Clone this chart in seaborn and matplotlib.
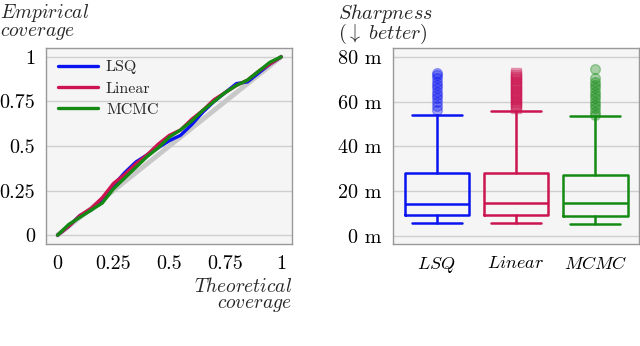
"""Calibration curves and sharpness box plots for LSQ / Linear / MCMC."""

import matplotlib

matplotlib.use("Agg")
import matplotlib.pyplot as plt
import pandas as pd
import seaborn as sns

# ---- data ----
methods = ["LSQ", "Linear", "MCMC"]
colors = ["#0a14f0", "#cc1450", "#148a14"]

theoretical = [0.0, 0.05, 0.10, 0.15, 0.20, 0.25, 0.30, 0.35, 0.40, 0.45, 0.50,
               0.55, 0.60, 0.65, 0.70, 0.75, 0.80, 0.85, 0.90, 0.95, 1.0]
cov_lsq = [0.0, 0.05, 0.11, 0.14, 0.20, 0.28, 0.35, 0.41, 0.45, 0.49, 0.53,
           0.56, 0.62, 0.69, 0.75, 0.80, 0.85, 0.86, 0.91, 0.96, 1.0]
cov_linear = [0.0, 0.05, 0.11, 0.15, 0.21, 0.29, 0.34, 0.40, 0.45, 0.51, 0.56,
              0.59, 0.65, 0.70, 0.76, 0.80, 0.84, 0.87, 0.92, 0.96, 1.0]
cov_mcmc = [0.0, 0.06, 0.10, 0.14, 0.18, 0.26, 0.32, 0.38, 0.44, 0.49, 0.55,
            0.59, 0.64, 0.70, 0.75, 0.80, 0.84, 0.87, 0.92, 0.97, 1.0]

# box statistics (metres)
whisker_low = [5.7, 5.8, 5.2]
q1 = [9.4, 9.4, 9.1]
median = [14.4, 14.6, 14.9]
q3 = [28.0, 28.0, 27.3]
whisker_high = [54.1, 55.9, 53.8]
outliers_lsq = [56.5, 58, 60, 61.5, 63, 64.5, 66, 67.5, 69, 70.5, 72, 73]
outliers_linear = [57, 58, 59, 60, 61, 62, 63, 64, 65, 66, 67, 68, 69, 70,
                   71, 72, 73]
outliers_mcmc = [54, 55.5, 57, 58.5, 60, 61.5, 63, 64.5, 66, 67.5, 69, 70.5,
                 74.5]

sns.set_theme(style="whitegrid", rc={
    "axes.facecolor": "#f5f5f5",
    "axes.edgecolor": "#999999",
    "axes.linewidth": 1.0,
    "grid.color": "#cfcfcf",
    "grid.linewidth": 1.0,
    "mathtext.fontset": "cm",
    "axes.formatter.use_mathtext": True,
})
plt.rcParams["font.family"] = ["cmr10", "DejaVu Serif"]

fig = plt.figure(figsize=(6.4, 3.46), dpi=100)
ax1 = fig.add_axes([0.0719, 0.2948, 0.3844, 0.5665])
ax2 = fig.add_axes([0.6141, 0.2948, 0.3844, 0.5665])

# ---- calibration panel ----
cov_df = pd.DataFrame({
    "theoretical": theoretical * 3,
    "empirical": cov_lsq + cov_linear + cov_mcmc,
    "method": [m for m in methods for _ in theoretical],
})
ax1.plot([0, 1], [0, 1], color="#c8c8c8", linewidth=3.5, zorder=2)
sns.lineplot(data=cov_df, x="theoretical", y="empirical", hue="method",
             hue_order=methods, palette=colors, linewidth=2.4, ax=ax1,
             zorder=3)
ax1.set_xlim(-0.052, 1.049)
ax1.set_ylim(-0.05, 1.05)
ticks = [0, 0.25, 0.5, 0.75, 1]
ax1.set_xticks(ticks, ["0", "0.25", "0.5", "0.75", "1"])
ax1.set_yticks(ticks, ["0", "0.25", "0.5", "0.75", "1"])
ax1.grid(False, axis="x")
ax1.set_xlabel("")
ax1.set_ylabel("")
leg = ax1.legend(loc="upper left", frameon=False, fontsize=11.5,
                 handlelength=2.5, handletextpad=0.5, labelspacing=0.45,
                 borderaxespad=0.35)
for line in leg.get_lines():
    line.set_linewidth(2.4)

fig.text(0.0, 0.995, "$\\mathit{Empirical}$\n$\\mathit{coverage}$",
         ha="left", va="top", fontsize=14, linespacing=0.85)
fig.text(0.4563, 0.198, "$\\mathit{Theoretical}$\n$\\mathit{coverage}$",
         ha="right", va="top", fontsize=14, linespacing=0.85,
         multialignment="right")

# ---- sharpness panel ----
outliers = [outliers_lsq, outliers_linear, outliers_mcmc]
stats = []
for i, m in enumerate(methods):
    stats.append({"label": m, "whislo": whisker_low[i], "q1": q1[i],
                  "med": median[i], "q3": q3[i], "whishi": whisker_high[i],
                  "fliers": outliers[i]})
for i, s in enumerate(stats):
    c = colors[i]
    marker = "s" if i == 1 else "o"
    ax2.bxp([s], positions=[i], widths=0.81, showfliers=True,
            patch_artist=False, manage_ticks=False,
            boxprops={"color": c, "linewidth": 1.8},
            medianprops={"color": c, "linewidth": 1.8},
            whiskerprops={"color": c, "linewidth": 1.8},
            capprops={"color": c, "linewidth": 1.8},
            capwidths=0.63,
            flierprops={"marker": marker, "markersize": 7,
                        "markerfacecolor": c, "markeredgecolor": c,
                        "alpha": 0.35, "linestyle": "none"})
ax2.set_xlim(-0.55, 2.55)
ax2.set_ylim(-3.6, 84)
ax2.set_yticks([0, 20, 40, 60, 80], ["0 m", "20 m", "40 m", "60 m", "80 m"])
ax2.set_xticks([0, 1, 2], ["$\\mathit{LSQ}$", "$\\mathit{Linear}$",
                           "$\\mathit{MCMC}$"])
ax2.grid(False, axis="x")
fig.text(0.528, 0.995, "$\\mathit{Sharpness}$\n$(\\downarrow\\ \\mathit{better})$",
         ha="left", va="top", fontsize=14.5, linespacing=0.85)

for ax in (ax1, ax2):
    ax.tick_params(axis="both", labelsize=14.5, colors="black")
    ax.tick_params(axis="y", length=0, pad=8)
    ax.tick_params(axis="x", direction="in", length=4, width=0.8,
                   color="#999999", pad=8)
    for sp in ax.spines.values():
        sp.set_color("#999999")
ax2.tick_params(axis="x", labelsize=13)

fig.savefig("out.png", dpi=100)
